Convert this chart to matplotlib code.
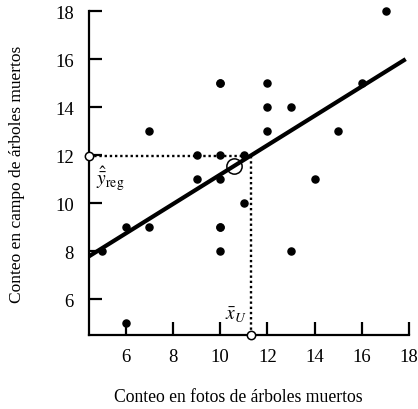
import numpy as np
import matplotlib
matplotlib.use("Agg")
import matplotlib.pyplot as plt

plt.rcParams['font.family'] = ['Liberation Serif', 'DejaVu Serif']
plt.rcParams['mathtext.fontset'] = 'stix'

# photo counts (x) and field counts (y) of dead trees, n = 25
photo = [10, 12, 7, 13, 13, 6, 17, 16, 15, 10, 14, 12, 10, 5, 12, 10, 10, 9, 6, 11, 7, 9, 11, 10, 10]
field = [15, 14, 9, 14, 8, 5, 18, 15, 13, 15, 11, 15, 12, 8, 13, 9, 11, 12, 9, 12, 13, 11, 10, 9, 8]
xbar_U = 11.3
ticks = [6, 8, 10, 12, 14, 16, 18]

x = np.array(photo, dtype=float)
y = np.array(field, dtype=float)
b1, b0 = np.polyfit(x, y, 1)
yhat_reg = b0 + b1 * xbar_U

fig = plt.figure(figsize=(4.18, 4.10), dpi=100)
ax = fig.add_axes([0.213, 0.180, 0.766, 0.790])
xmin, xmax = 4.45, 18.0
ymin, ymax = 4.5, 18.0
ax.set_xlim(xmin, xmax)
ax.set_ylim(ymin, ymax)

ax.scatter(x, y, s=26, color='black', zorder=3, clip_on=False)

xs = np.array([xmin, 17.85])
ax.plot(xs, b0 + b1 * xs, color='black', lw=3.0, solid_capstyle='butt', zorder=2)

# dotted guides to the axes
ax.plot([xmin, xbar_U], [yhat_reg, yhat_reg], color='black', ls=(0, (1, 1.2)), lw=1.7, zorder=1)
ax.plot([xbar_U, xbar_U], [ymin, yhat_reg], color='black', ls=(0, (1, 1.2)), lw=1.7, zorder=1)
ax.plot([xmin], [yhat_reg], marker='o', ms=6, mfc='white', mec='black', mew=1.1, clip_on=False, zorder=4)
ax.plot([xbar_U], [ymin], marker='o', ms=6, mfc='white', mec='black', mew=1.1, clip_on=False, zorder=4)
ax.plot([x.mean()], [y.mean()], marker='o', ms=11, mfc='none', mec='black', mew=1.1, zorder=4)

ax.text(4.75, 11.05, r'$\hat{\bar{y}}_{\mathrm{reg}}$', fontsize=14, ha='left', va='center')
ax.text(11.15, 5.35, r'$\bar{x}_U$', fontsize=14, ha='right', va='center')

for side in ('top', 'right'):
    ax.spines[side].set_visible(False)
ax.spines['left'].set_linewidth(1.6)
ax.spines['bottom'].set_linewidth(1.6)

ax.set_xticks(ticks)
ax.set_yticks(ticks)
ax.tick_params(direction='in', length=9.5, width=1.6, labelsize=13.5)
ax.tick_params(axis='x', pad=9)
ax.tick_params(axis='y', pad=11)

ax.set_xlabel('Conteo en fotos de árboles muertos', fontsize=12.7)
ax.set_ylabel('Conteo en campo de árboles muertos', fontsize=12.5)
ax.xaxis.set_label_coords(0.465, -0.162)
ax.yaxis.set_label_coords(-0.2, 0.5)

fig.savefig('out.png', dpi=100)
